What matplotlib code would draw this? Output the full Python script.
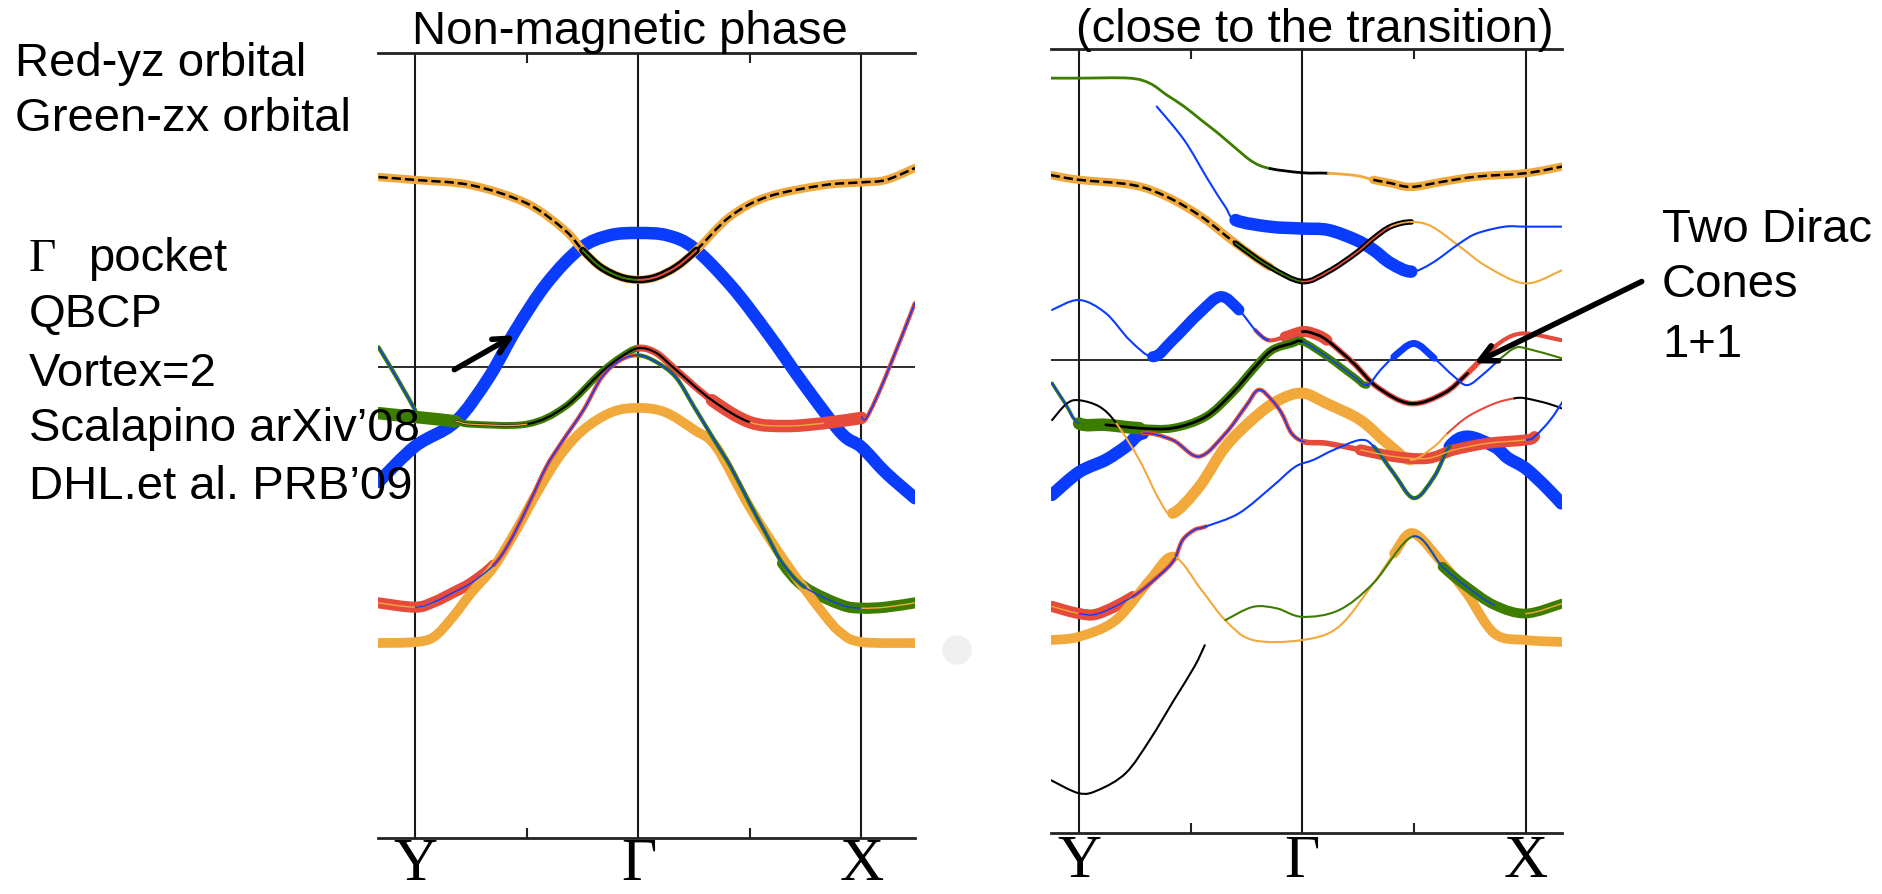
import matplotlib
matplotlib.use("Agg")
import matplotlib.pyplot as plt
from matplotlib.patches import Circle, PathPatch
from matplotlib.path import Path
from matplotlib.transforms import blended_transform_factory

W, H = 1883, 894

BLUE = "#0a3cff"
ORANGE = "#f2a93b"
RED = "#e64a3b"
GREEN = "#3c7d00"
BLACK = "#000000"

# ---------------- left panel: non-magnetic bands (k: Y=0, G=1, X=2) ----------------
l1_k = [-0.165, 0.0, 0.25, 0.50, 0.67, 0.75, 0.83, 0.92, 1.0, 1.08, 1.17, 1.26, 1.41, 1.58, 1.83, 2.0, 2.11, 2.24]
l1_e = [0.397, 0.391, 0.380, 0.342, 0.286, 0.244, 0.209, 0.188, 0.182, 0.188, 0.209, 0.244, 0.314, 0.356, 0.380, 0.386, 0.391, 0.416]

l2_k = [-0.165, 0.0, 0.18, 0.33, 0.45, 0.59, 0.74, 0.87, 1.0, 1.13, 1.25, 1.42, 1.58, 1.75, 1.91, 2.0, 2.11, 2.24]
l2_e = [-0.241, -0.166, -0.115, -0.022, 0.077, 0.175, 0.248, 0.275, 0.280, 0.275, 0.248, 0.167, 0.070, -0.042, -0.139, -0.168, -0.222, -0.275]

l3_k = [-0.165, 0.0, 0.18, 0.25, 0.50, 0.67, 0.83, 0.92, 1.0, 1.08, 1.17, 1.33, 1.50, 1.66, 1.83, 2.0]
l3_e = [-0.097, -0.105, -0.114, -0.120, -0.120, -0.084, -0.013, 0.020, 0.039, 0.029, -0.007, -0.070, -0.116, -0.124, -0.118, -0.107]

l3a_k = [-0.165, -0.084, 0.0]
l3a_e = [0.041, -0.022, -0.091]
l3b_k = [2.0, 2.025, 2.107, 2.239]
l3b_e = [-0.105, -0.105, -0.022, 0.133]

l4_k = [-0.165, 0.0, 0.084, 0.167, 0.251, 0.351, 0.452, 0.552, 0.65, 0.753, 0.88, 1.0, 1.12, 1.25, 1.349, 1.498, 1.662, 1.827, 1.909, 2.0, 2.24]
l4_e = [-0.578, -0.576, -0.565, -0.524, -0.473, -0.419, -0.342, -0.258, -0.185, -0.132, -0.095, -0.086, -0.095, -0.132, -0.168, -0.293, -0.411, -0.515, -0.557, -0.576, -0.578]

l5_k = [-0.165, 0.0, 0.084, 0.167, 0.251, 0.351, 0.42, 0.503, 0.586, 0.653, 0.753, 0.836, 0.92, 1.0,
        1.08, 1.168, 1.25, 1.349, 1.415, 1.498, 1.58, 1.646, 1.745, 1.909, 2.0, 2.107, 2.239]
l5_e = [-0.494, -0.503, -0.492, -0.473, -0.452, -0.415, -0.369, -0.293, -0.210, -0.160, -0.091, -0.022, 0.014, 0.024,
        0.010, -0.022, -0.084, -0.160, -0.210, -0.285, -0.356, -0.411, -0.461, -0.498, -0.505, -0.503, -0.494]

# ---------------- right panel: close to the transition ----------------
r1_k = [-0.127, 0.0, 0.225, 0.317, 0.394, 0.471, 0.548, 0.624, 0.701, 0.778, 0.854, 1.0, 1.116, 1.24, 1.318, 1.395, 1.488, 1.628, 1.783, 2.0, 2.163]
r1_e = [0.596, 0.596, 0.596, 0.585, 0.560, 0.536, 0.507, 0.479, 0.448, 0.419, 0.405, 0.396, 0.395, 0.390, 0.381, 0.374, 0.366, 0.377, 0.388, 0.395, 0.409]

r2_k = [-0.127, 0.0, 0.241, 0.394, 0.548, 0.701, 0.854, 1.0, 1.116, 1.24, 1.318, 1.395, 1.488, 1.581, 1.705, 1.829, 2.0, 2.163]
r2_e = [0.391, 0.381, 0.370, 0.345, 0.303, 0.247, 0.197, 0.166, 0.187, 0.226, 0.257, 0.282, 0.292, 0.282, 0.240, 0.197, 0.162, 0.190]

r3_k = [0.348, 0.471, 0.578, 0.655, 0.701, 0.854, 1.0, 1.116, 1.24, 1.318, 1.395, 1.488, 1.581, 1.705, 1.783, 1.907, 2.0, 2.163]
r3_e = [0.536, 0.465, 0.381, 0.324, 0.296, 0.282, 0.278, 0.275, 0.254, 0.233, 0.205, 0.187, 0.205, 0.247, 0.268, 0.282, 0.282, 0.282]

r4_k = [-0.121, 0.0, 0.12, 0.227, 0.33, 0.419, 0.538, 0.634, 0.716, 0.79, 0.849, 0.923, 1.0, 1.05, 1.11, 1.23, 1.335, 1.485, 1.635, 1.74, 1.86, 1.98, 2.16]
r4_e = [0.106, 0.127, 0.099, 0.042, 0.007, 0.042, 0.099, 0.134, 0.106, 0.063, 0.042, 0.049, 0.060, 0.056, 0.042, -0.007, -0.057, -0.092, -0.070, -0.028, 0.028, 0.056, 0.042]

r5_k = [-0.121, -0.062, 0.0, 0.12, 0.27, 0.419, 0.567, 0.686, 0.79, 0.864, 0.952, 1.0, 1.11, 1.23, 1.29, 1.35, 1.41, 1.5, 1.59, 1.68, 1.74, 1.815, 1.89, 1.95, 2.0, 2.16]
r5_e = [-0.049, -0.092, -0.134, -0.137, -0.144, -0.144, -0.120, -0.070, -0.014, 0.021, 0.035, 0.039, 0.007, -0.035, -0.053, -0.021, 0.007, 0.035, 0.004, -0.035, -0.053, -0.028, 0.004, 0.025, 0.025, 0.004]

r6_k = [-0.121, 0.0, 0.12, 0.21, 0.286, 0.419, 0.538, 0.656, 0.745, 0.804, 0.864, 0.908, 0.952, 1.01, 1.11, 1.26, 1.41, 1.56, 1.68, 1.83, 2.0, 2.04, 2.11, 2.17]
r6_e = [-0.285, -0.237, -0.211, -0.183, -0.155, -0.169, -0.204, -0.155, -0.099, -0.063, -0.085, -0.113, -0.155, -0.173, -0.176, -0.190, -0.204, -0.208, -0.190, -0.176, -0.169, -0.162, -0.127, -0.085]

r7_k = [-0.121, -0.055, 0.0, 0.093, 0.167, 0.27, 0.36, 0.419, 0.538, 0.656, 0.79, 0.893, 1.0, 1.11, 1.26, 1.38, 1.485, 1.59, 1.65, 1.74, 1.86, 1.95, 2.0, 2.1, 2.16]
r7_e = [-0.127, -0.092, -0.085, -0.099, -0.134, -0.211, -0.296, -0.324, -0.268, -0.183, -0.120, -0.085, -0.070, -0.092, -0.127, -0.176, -0.211, -0.183, -0.155, -0.120, -0.092, -0.081, -0.081, -0.092, -0.102]

r8_k = [-0.121, 0.0, 0.087, 0.241, 0.36, 0.425, 0.463, 0.517, 0.567, 0.716, 0.864, 0.967, 1.05, 1.14, 1.26, 1.32, 1.41, 1.5, 1.59, 1.66, 1.74, 1.86, 1.92, 2.0, 2.09, 2.16]
r8_e = [-0.521, -0.536, -0.536, -0.500, -0.455, -0.423, -0.381, -0.359, -0.352, -0.324, -0.268, -0.226, -0.211, -0.190, -0.169, -0.183, -0.240, -0.292, -0.247, -0.183, -0.162, -0.183, -0.207, -0.229, -0.268, -0.303]

r9_k = [-0.127, 0.0, 0.164, 0.317, 0.425, 0.548, 0.655, 0.778, 1.0, 1.163, 1.318, 1.411, 1.496, 1.628, 1.736, 1.86, 2.0, 2.163]
r9_e = [-0.592, -0.585, -0.550, -0.465, -0.416, -0.486, -0.550, -0.592, -0.592, -0.564, -0.472, -0.409, -0.366, -0.430, -0.493, -0.578, -0.592, -0.596]

r10_k = [0.655, 0.778, 0.885, 1.0, 1.163, 1.318, 1.496, 1.628, 1.736, 1.86, 2.0, 2.163]
r10_e = [-0.550, -0.522, -0.525, -0.543, -0.529, -0.472, -0.373, -0.437, -0.479, -0.518, -0.536, -0.515]

r11_k = [-0.127, 0.0, 0.087, 0.21, 0.317, 0.425, 0.517, 0.563]
r11_e = [-0.888, -0.916, -0.909, -0.873, -0.803, -0.719, -0.648, -0.603]

k_ticks = [0, 1, 2]
k_labels = ["Y", "\u0393", "X"]

# (first index, last index, colour, linewidth, linestyle)
left_bands = [
    (l2_k, l2_e, [(0, 17, BLUE, 9, "-")]),
    (l1_k, l1_e, [(0, 17, ORANGE, 6, "-"), (0, 5, BLACK, 1.8, "--"), (11, 17, BLACK, 1.8, "--"),
                  (5, 11, BLACK, 5, "-"), (5, 8, GREEN, 1.5, "-"), (8, 11, RED, 1.5, "-")]),
    (l4_k, l4_e, [(0, 20, ORANGE, 7, "-")]),
    (l5_k, l5_e, [(0, 5, RED, 8, "-"), (5, 13, RED, 3, "-"), (13, 22, GREEN, 3, "-"), (21, 26, GREEN, 8, "-"),
                  (0, 2, ORANGE, 1, "-"), (1, 13, BLUE, 1, "-"), (13, 24, BLUE, 1, "-"), (24, 26, ORANGE, 1, "-")]),
    (l3_k, l3_e, [(0, 2, GREEN, 9, "-"), (2, 8, GREEN, 5, "-"), (8, 11, RED, 5, "-"), (11, 15, RED, 9, "-"),
                  (2, 12, BLACK, 1.6, "-"), (2, 4, ORANGE, 1, "-"), (12, 14, ORANGE, 1, "-")]),
    (l3a_k, l3a_e, [(0, 2, GREEN, 3, "-"), (0, 2, BLUE, 1, "-")]),
    (l3b_k, l3b_e, [(0, 3, RED, 3, "-"), (0, 3, BLUE, 1, "-")]),
]

right_bands = [
    (r1_k, r1_e, [(0, 10, GREEN, 2, "-"), (10, 12, BLACK, 2, "-"), (12, 14, ORANGE, 2, "-"),
                  (14, 20, ORANGE, 6, "-"), (14, 20, BLACK, 1.8, "--")]),
    (r2_k, r2_e, [(0, 6, ORANGE, 6, "-"), (0, 5, BLACK, 1.8, "--"), (5, 12, BLACK, 4, "-"),
                  (5, 7, GREEN, 1.2, "-"), (7, 11, RED, 1.2, "-"), (11, 12, ORANGE, 1.2, "-"), (12, 17, ORANGE, 1.5, "-")]),
    (r3_k, r3_e, [(0, 4, BLUE, 1.5, "-"), (4, 11, BLUE, 9, "-"), (11, 17, BLUE, 1.5, "-")]),
    (r9_k, r9_e, [(0, 4, ORANGE, 7, "-"), (4, 11, ORANGE, 1.5, "-"), (11, 17, ORANGE, 7, "-")]),
    (r10_k, r10_e, [(0, 7, GREEN, 1.5, "-"), (7, 11, GREEN, 7, "-"), (6, 9, BLUE, 1, "-"), (10, 11, ORANGE, 1, "-")]),
    (r8_k, r8_e, [(0, 3, RED, 8, "-"), (0, 1, ORANGE, 1, "-"), (1, 3, BLUE, 1, "-"), (3, 8, RED, 3, "-"),
                  (3, 8, BLUE, 1, "-"), (8, 15, BLUE, 1.5, "-"), (15, 19, GREEN, 3, "-"), (15, 19, BLUE, 1, "-"),
                  (19, 25, BLUE, 9, "-")]),
    (r7_k, r7_e, [(0, 4, BLACK, 1.5, "-"), (4, 7, ORANGE, 1.5, "-"), (7, 16, ORANGE, 8, "-"),
                  (16, 18, ORANGE, 1.5, "-"), (18, 21, RED, 1.5, "-"), (21, 24, BLACK, 1.5, "-")]),
    (r6_k, r6_e, [(0, 4, BLUE, 9, "-"), (4, 13, RED, 3, "-"), (4, 13, BLUE, 1, "-"), (13, 15, RED, 4, "-"),
                  (15, 21, RED, 8, "-"), (15, 20, ORANGE, 1, "-"), (20, 23, BLUE, 1.5, "-")]),
    (r5_k, r5_e, [(0, 2, GREEN, 2.5, "-"), (0, 2, BLUE, 1, "-"), (2, 4, GREEN, 9, "-"), (4, 11, GREEN, 6, "-"),
                  (3, 11, BLACK, 2, "-"), (11, 14, GREEN, 5, "-"), (11, 14, BLUE, 1, "-"), (14, 16, BLUE, 1.5, "-"),
                  (16, 18, BLUE, 5, "-"), (18, 22, BLUE, 1.5, "-"), (22, 25, GREEN, 1.5, "-")]),
    (r4_k, r4_e, [(0, 4, BLUE, 1.5, "-"), (4, 8, BLUE, 8, "-"), (8, 10, BLUE, 1.5, "-"), (9, 11, RED, 3, "-"),
                  (11, 14, RED, 8, "-"), (14, 20, RED, 4, "-"), (12, 19, BLACK, 2, "-"), (19, 22, RED, 3, "-")]),
    (r11_k, r11_e, [(0, 7, BLACK, 1.5, "-")]),
]


def px(x, y):
    return x / W, 1 - y / H


def curve(k, e, i0, i1):
    # smooth bezier through the read points i0..i1 (catmull-rom tangents)
    n = len(k)
    verts = [(k[i0], e[i0])]
    codes = [Path.MOVETO]
    for i in range(i0, i1):
        a = max(i - 1, 0)
        b = min(i + 2, n - 1)
        c1 = (k[i] + (k[i + 1] - k[a]) / 6, e[i] + (e[i + 1] - e[a]) / 6)
        c2 = (k[i + 1] - (k[b] - k[i]) / 6, e[i + 1] - (e[b] - e[i]) / 6)
        verts += [c1, c2, (k[i + 1], e[i + 1])]
        codes += [Path.CURVE4] * 3
    return Path(verts, codes)


def draw_bands(ax, bands):
    items = []
    for k, e, styles in bands:
        for i0, i1, c, lw, ls in styles:
            items.append((lw, curve(k, e, i0, i1), c, ls))
    # thick strokes first, thin lines on top
    items.sort(key=lambda t: -t[0])
    for n, (lw, path, c, ls) in enumerate(items):
        ax.add_patch(PathPatch(path, fill=False, edgecolor=c, lw=lw, ls=ls,
                               capstyle="round" if ls == "-" else "butt",
                               joinstyle="round", zorder=3 + n * 0.01))


def frame(ax, xlim, ylim, label_baseline):
    ax.set_xlim(*xlim)
    ax.set_ylim(*ylim)
    for s in ["left", "right"]:
        ax.spines[s].set_visible(False)
    for s in ["top", "bottom"]:
        ax.spines[s].set_linewidth(2)
        ax.spines[s].set_color("#222222")
    for kv in k_ticks:
        ax.axvline(kv, color="#1a1a1a", lw=1.5, zorder=2)
    ax.axhline(0, color="#1a1a1a", lw=1.3, zorder=2)
    ax.set_yticks([])
    ax.set_xticks(k_ticks, labels=["", "", ""])
    ax.set_xticks([0.5, 1.5], minor=True)
    ax.tick_params(axis="x", which="major", length=0)
    ax.tick_params(axis="x", which="minor", direction="in", top=True, bottom=True,
                   length=7, width=1.5, color="#222222")
    tr = blended_transform_factory(ax.transData, fig.transFigure)
    for kv, lab in zip(k_ticks, k_labels):
        ax.text(kv, 1 - label_baseline / H, lab, transform=tr, ha="center", va="baseline",
                fontsize=44, family=["Liberation Serif", "DejaVu Serif"], clip_on=False)


fig = plt.figure(figsize=(W / 100, H / 100), dpi=100)

axL = fig.add_axes([378.5 / W, 1 - 838 / H, 536.5 / W, (838 - 53.3) / H])
axR = fig.add_axes([1050.7 / W, 1 - 833 / H, 511.3 / W, (833 - 49.3) / H])

frame(axL, (-0.165, 2.24), (-0.986, 0.656), 880)
frame(axR, (-0.127, 2.163), (-1.0, 0.657), 877)

draw_bands(axL, left_bands)
draw_bands(axR, right_bands)

# arrows
axL.annotate("", xy=(0.445, 0.066), xytext=(0.175, -0.006),
             arrowprops=dict(arrowstyle="->", lw=4, color="black", mutation_scale=28,
                             shrinkA=0, shrinkB=0), annotation_clip=False, zorder=10)
axR.annotate("", xy=(1.77, -0.007), xytext=(2.52, 0.166),
             arrowprops=dict(arrowstyle="->", lw=4, color="black", mutation_scale=30,
                             shrinkA=0, shrinkB=0), annotation_clip=False, zorder=10)

# titles and notes
sans = ["Liberation Sans", "DejaVu Sans"]
serif = ["Liberation Serif", "DejaVu Serif"]
fs = 34
fig.text(*px(630, 44), "Non-magnetic phase", ha="center", va="baseline", fontsize=fs, family=sans)
fig.text(*px(1315, 42), "(close to the transition)", ha="center", va="baseline", fontsize=fs, family=sans)

fig.text(*px(15, 76), "Red-yz orbital", va="baseline", fontsize=fs, family=sans)
fig.text(*px(15, 131), "Green-zx orbital", va="baseline", fontsize=fs, family=sans)
fig.text(*px(29, 271), "\u0393", va="baseline", fontsize=fs, family=serif)
fig.text(*px(88, 271), "pocket", va="baseline", fontsize=fs, family=sans)
fig.text(*px(29, 327), "QBCP", va="baseline", fontsize=fs, family=sans)
fig.text(*px(29, 386), "Vortex=2", va="baseline", fontsize=fs, family=sans)
fig.text(*px(29, 441), "Scalapino arXiv\u201908", va="baseline", fontsize=fs, family=sans, zorder=20)
fig.text(*px(29, 499), "DHL.et al. PRB\u201909", va="baseline", fontsize=fs, family=sans, zorder=20)

fig.text(*px(1662, 242), "Two Dirac", va="baseline", fontsize=fs, family=sans)
fig.text(*px(1662, 297), "Cones", va="baseline", fontsize=fs, family=sans)
fig.text(*px(1662, 357), "1+1", va="baseline", fontsize=fs, family=sans)

fig.add_artist(Circle((9.57, (H - 650) / 100), 0.14, transform=fig.dpi_scale_trans,
                      color="#efefef", zorder=0))

fig.savefig("out.png", dpi=100)
